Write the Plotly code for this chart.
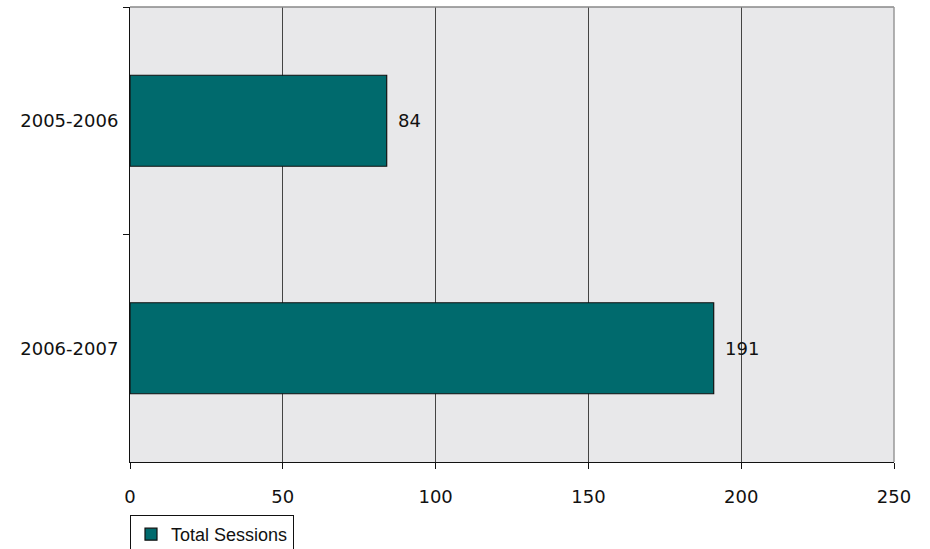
import plotly.graph_objects as go

categories = ["2005-2006", "2006-2007"]
values = [84, 191]
series_name = "Total Sessions"
x_ticks = [0, 50, 100, 150, 200, 250]

fig = go.Figure()
fig.add_trace(go.Bar(
    y=categories, x=values, orientation="h", name=series_name,
    marker=dict(color="#006A6D", line=dict(color="#111111", width=1.2)),
    showlegend=True,
))

# value labels placed next to bar ends via data coordinates
for cat, val in zip(categories, values):
    fig.add_annotation(x=val, y=cat, xref="x", yref="y", text=str(val),
                       showarrow=False, xanchor="left", yanchor="middle",
                       xshift=9, font=dict(family="DejaVu Sans", size=18, color="#111111"))

fig.update_layout(
    width=930, height=549,
    margin=dict(l=130, r=36, t=7, b=87, autoexpand=False),
    paper_bgcolor="white", plot_bgcolor="#E8E8EA",
    bargap=0.6,
    font=dict(family="DejaVu Sans", size=18, color="#111111"),
    showlegend=True,
    legend=dict(x=0, xanchor="left", y=-0.1165, yanchor="top",
                bordercolor="#111111", borderwidth=1, bgcolor="white",
                font=dict(family="Liberation Sans", size=18, color="#111111"),
                itemwidth=30, tracegroupgap=0),
)
fig.update_xaxes(
    range=[0, 250], tickvals=x_ticks, ticktext=[str(t) for t in x_ticks],
    showgrid=True, gridcolor="#444444", gridwidth=1,
    showline=True, linecolor="#111111", linewidth=1,
    ticks="outside", ticklen=6, tickcolor="#111111",
    ticklabelstandoff=12,
    zeroline=False, mirror=False, fixedrange=True,
)
fig.update_yaxes(
    categoryorder="array", categoryarray=categories, autorange="reversed",
    showline=True, linecolor="#111111", linewidth=1,
    ticks="outside", ticklen=6, tickcolor="#111111", tickson="boundaries",
    ticklabelstandoff=7,
    showgrid=False, zeroline=False,
)
# plot border (top/right) in gray
fig.add_shape(type="line", xref="paper", yref="paper", x0=0, x1=1, y0=1, y1=1,
              line=dict(color="#888888", width=1.5))
fig.add_shape(type="line", xref="paper", yref="paper", x0=1, x1=1, y0=0, y1=1,
              line=dict(color="#999999", width=1.5))

fig.write_html("out.html", config={"displayModeBar": False},
               post_script="document.body.style.margin='0';")
